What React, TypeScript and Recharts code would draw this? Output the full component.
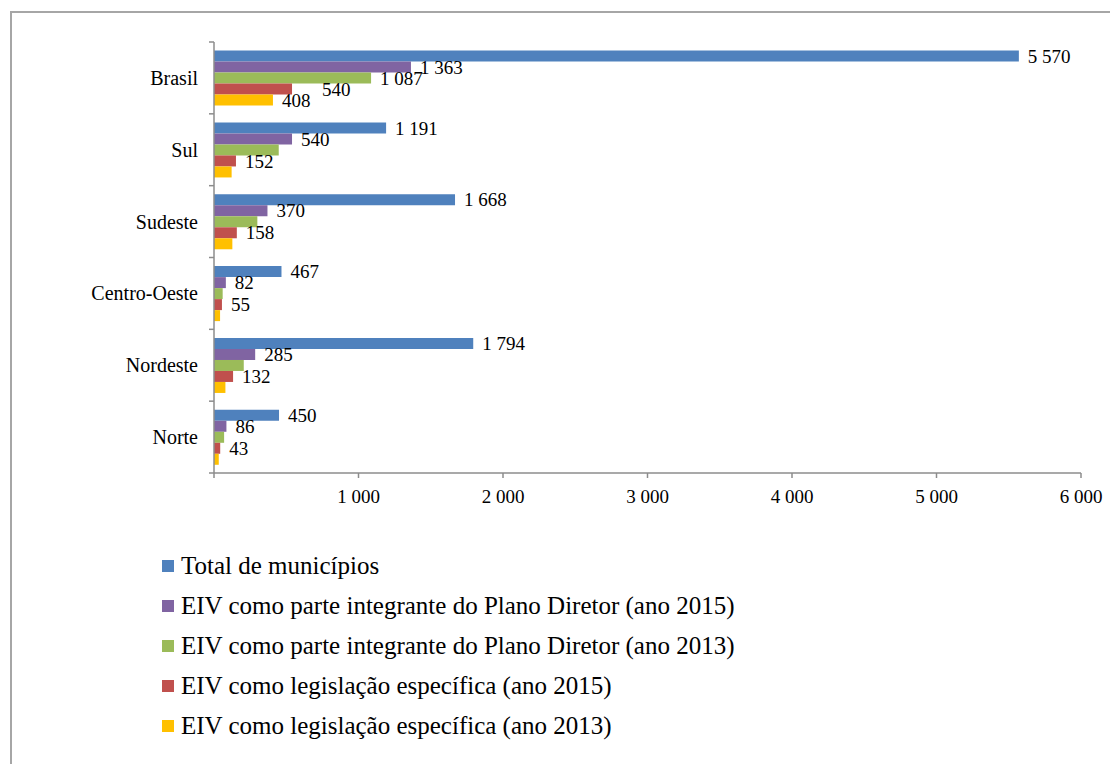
import React from "react";
import { BarChart, Bar, XAxis, YAxis, Legend, LabelList } from "recharts";

const regions = ["Brasil", "Sul", "Sudeste", "Centro-Oeste", "Nordeste", "Norte"];
const totalMunicipios = [5570, 1191, 1668, 467, 1794, 450];
const planoDiretor2015 = [1363, 540, 370, 82, 285, 86];
const planoDiretor2013 = [1087, 448, 300, 60, 206, 70];
const legislacao2015 = [540, 152, 158, 55, 132, 43];
const legislacao2013 = [408, 122, 127, 42, 79, 33];
const xTicks = [0, 1000, 2000, 3000, 4000, 5000, 6000];

const seriesNames = [
  "Total de municípios",
  "EIV como parte integrante do Plano Diretor (ano 2015)",
  "EIV como parte integrante do Plano Diretor (ano 2013)",
  "EIV como legislação específica (ano 2015)",
  "EIV como legislação específica (ano 2013)",
];

const data = regions.map((name, i) => ({
  name,
  total: totalMunicipios[i],
  pd2015: planoDiretor2015[i],
  pd2013: planoDiretor2013[i],
  leg2015: legislacao2015[i],
  leg2013: legislacao2013[i],
}));

const FONT = "'Liberation Serif', 'Times New Roman', serif";
const AXIS = "#8c8c8c";
const W = 1110;
const H = 756;
const M = { top: 34, right: 37, left: 0, bottom: 261 };
const X_AXIS_H = 30;
const Y_AXIS_W = 206;
const band = (H - M.top - M.bottom - X_AXIS_H) / regions.length;

const fmt = (v: number) => String(v).replace(/\B(?=(\d{3})+(?!\d))/g, " ");

function YTick(props: any) {
  const { y, payload, index } = props;
  return (
    <g>
      <text x={Y_AXIS_W - 16} y={y} dy="0.35em" textAnchor="end" fontFamily={FONT} fontSize={20} fill="#000">
        {payload.value}
      </text>
      <line x1={Y_AXIS_W - 5} x2={Y_AXIS_W} y1={y - band / 2} y2={y - band / 2} stroke={AXIS} strokeWidth={1.5} />
      {index === regions.length - 1 && (
        <line x1={Y_AXIS_W - 5} x2={Y_AXIS_W} y1={y + band / 2} y2={y + band / 2} stroke={AXIS} strokeWidth={1.5} />
      )}
    </g>
  );
}

function XTick(props: any) {
  const { x, y, payload } = props;
  if (payload.value === 0) return <g />;
  return (
    <text x={x} y={y} dy="0.71em" textAnchor="middle" fontFamily={FONT} fontSize={19} fill="#000">
      {fmt(payload.value)}
    </text>
  );
}

// only Brasil gets a label on the 2013 series
const makeLabel = (onlyFirst: boolean, key: string) => (props: any) => {
  const { x, y, width, height, value, index } = props;
  if (onlyFirst && index !== 0) return null;
  const shift = key === "leg2015" && index === 0 ? 30 : 9;
  return (
    <text x={x + width + shift} y={y + height / 2} dy="0.35em" fontFamily={FONT} fontSize={19} fill="#000">
      {fmt(value)}
    </text>
  );
};

function LegendBox(props: any) {
  // vertical layout hands the payload over bottom-up, the picture lists it top-down
  const items = [...(props.payload || [])].reverse();
  return (
    <div>
      {items.map((p: any) => (
        <div key={p.value} style={{ height: 40, display: "flex", alignItems: "center" }}>
          <span style={{ width: 12, height: 12, background: p.color, marginRight: 7, display: "inline-block" }} />
          <span style={{ fontFamily: FONT, fontSize: 25, color: "#000", whiteSpace: "nowrap" }}>{p.value}</span>
        </div>
      ))}
    </div>
  );
}

const series = [
  { key: "total", color: "#4F81BD", onlyFirst: false },
  { key: "pd2015", color: "#8064A2", onlyFirst: false },
  { key: "pd2013", color: "#9BBB59", onlyFirst: true },
  { key: "leg2015", color: "#C0504D", onlyFirst: false },
  { key: "leg2013", color: "#FFC000", onlyFirst: true },
];

export default function App() {
  return (
    <div style={{ position: "relative", width: W, height: H, background: "#fff" }}>
      <div
        style={{
          position: "absolute",
          left: 2,
          top: 3,
          right: 0,
          bottom: 0,
          borderTop: "2px solid #a6a6a6",
          borderLeft: "2px solid #a6a6a6",
        }}
      />
      <BarChart
        width={W}
        height={H}
        data={data}
        layout="vertical"
        margin={M}
        barCategoryGap="12%"
        barGap={0}
      >
        <XAxis
          type="number"
          domain={[0, 6000]}
          ticks={xTicks}
          tick={<XTick />}
          tickSize={5}
          tickMargin={12}
          height={X_AXIS_H}
          axisLine={{ stroke: AXIS, strokeWidth: 1.5 }}
          tickLine={{ stroke: AXIS, strokeWidth: 1.5 }}
        />
        <YAxis
          type="category"
          dataKey="name"
          width={Y_AXIS_W}
          tick={<YTick />}
          tickLine={false}
          tickSize={0}
          axisLine={{ stroke: AXIS, strokeWidth: 1.5 }}
        />
        <Legend
          layout="vertical"
          align="center"
          verticalAlign="middle"
          content={<LegendBox />}
          wrapperStyle={{ top: 538, left: 154, width: 700 }}
        />
        {series.map((s, i) => (
          <Bar key={s.key} dataKey={s.key} name={seriesNames[i]} fill={s.color} isAnimationActive={false}>
            <LabelList dataKey={s.key} content={makeLabel(s.onlyFirst, s.key)} />
          </Bar>
        ))}
      </BarChart>
    </div>
  );
}
